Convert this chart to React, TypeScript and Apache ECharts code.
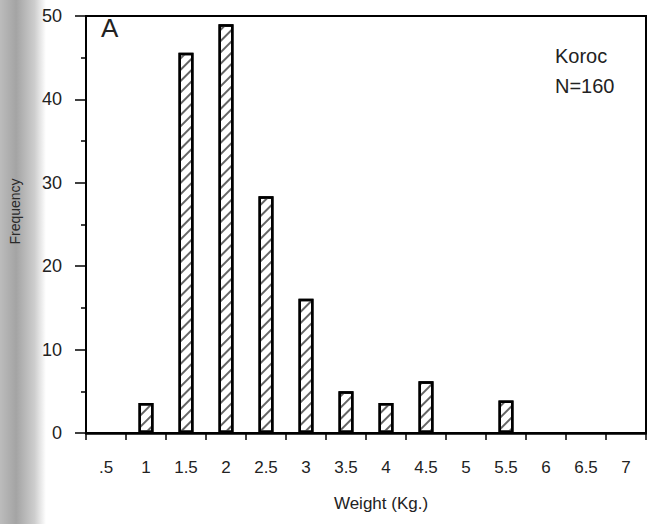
import React, { useEffect, useRef } from "react";
import * as echarts from "echarts";

const categories = [".5", "1", "1.5", "2", "2.5", "3", "3.5", "4", "4.5", "5", "5.5", "6", "6.5", "7"];
const frequency = [0, 3.6, 45.6, 49.0, 28.4, 16.1, 5.0, 3.6, 6.2, 0, 3.9, 0, 0, 0];
const yTicks = [0, 10, 20, 30, 40, 50];
const panelLabel = "A";
const siteLabel = "Koroc";
const sampleLabel = "N=160";
const xAxisTitle = "Weight (Kg.)";
const yAxisTitle = "Frequency";

const FONT = "'Liberation Sans', Arial, Helvetica, sans-serif";
const TXT = "#222";

export default function App() {
  const ref = useRef<HTMLDivElement>(null);
  useEffect(() => {
    if (!ref.current) return;
    const chart = echarts.init(ref.current, undefined, { renderer: "svg" });
    chart.setOption({
      animation: false,
      backgroundColor: "#fff",
      grid: {
        left: 79,
        right: 1,
        top: 16,
        bottom: 91,
        show: true,
        borderColor: "#000",
        borderWidth: 2,
        backgroundColor: "transparent",
      },
      xAxis: {
        type: "category",
        data: categories,
        boundaryGap: true,
        name: xAxisTitle,
        nameLocation: "middle",
        nameGap: 62,
        nameTextStyle: { fontFamily: FONT, fontSize: 17, color: TXT, padding: [0, 0, 0, 30] },
        axisLine: { lineStyle: { color: "#000", width: 2.5 } },
        axisTick: { show: true, inside: false, length: 7, alignWithLabel: false, lineStyle: { color: "#000", width: 1.5 } },
        axisLabel: { interval: 0, margin: 26, fontFamily: FONT, fontSize: 17, color: TXT },
        splitLine: { show: false },
      },
      yAxis: {
        type: "value",
        min: yTicks[0],
        max: yTicks[yTicks.length - 1],
        interval: 10,
        name: yAxisTitle,
        nameLocation: "middle",
        nameGap: 64,
        nameRotate: 90,
        nameTextStyle: { fontFamily: FONT, fontSize: 14, color: "#2a2a2a", padding: [0, 0, 0, 26] },
        axisLine: { show: true, lineStyle: { color: "#000", width: 2 } },
        axisTick: { show: true, inside: false, length: 11, lineStyle: { color: "#000", width: 1.5 } },
        minorTick: { show: true, splitNumber: 2, length: 5, lineStyle: { color: "#000", width: 1.5 } },
        axisLabel: { margin: 24, fontFamily: FONT, fontSize: 18, color: TXT },
        splitLine: { show: false },
        minorSplitLine: { show: false },
      },
      graphic: [
        {
          type: "rect",
          z: -10,
          silent: true,
          shape: { x: 0, y: 0, width: 46, height: 524 },
          style: {
            fill: new echarts.graphic.LinearGradient(0, 0, 1, 0, [
              { offset: 0, color: "#bcbcbc" },
              { offset: 0.35, color: "#a4a4a4" },
              { offset: 0.75, color: "#cdcdcd" },
              { offset: 1, color: "#ffffff" },
            ]),
          },
        },
        {
          type: "text",
          left: 101,
          top: 15,
          style: { text: panelLabel, fontFamily: FONT, fontSize: 26, fill: TXT },
        },
        {
          type: "text",
          left: 555,
          top: 46,
          style: { text: siteLabel, fontFamily: FONT, fontSize: 20, fill: TXT },
        },
        {
          type: "text",
          left: 555,
          top: 76,
          style: { text: sampleLabel, fontFamily: FONT, fontSize: 20, fill: TXT },
        },
      ],
      series: [
        {
          type: "bar",
          data: frequency.map((v) => (v > 0 ? v : null)),
          barWidth: 15,
          itemStyle: {
            color: "#fff",
            borderColor: "#000",
            borderWidth: 2.5,
            decal: {
              symbol: "rect",
              symbolSize: 1,
              color: "#666",
              backgroundColor: "#fff",
              dashArrayX: [1, 0],
              dashArrayY: [1.2, 5.5],
              rotation: -Math.PI / 4,
            },
          },
        },
      ],
    });
    return () => chart.dispose();
  }, []);
  return <div ref={ref} style={{ position: "fixed", left: 0, top: 0, width: 647, height: 524 }} />;
}
